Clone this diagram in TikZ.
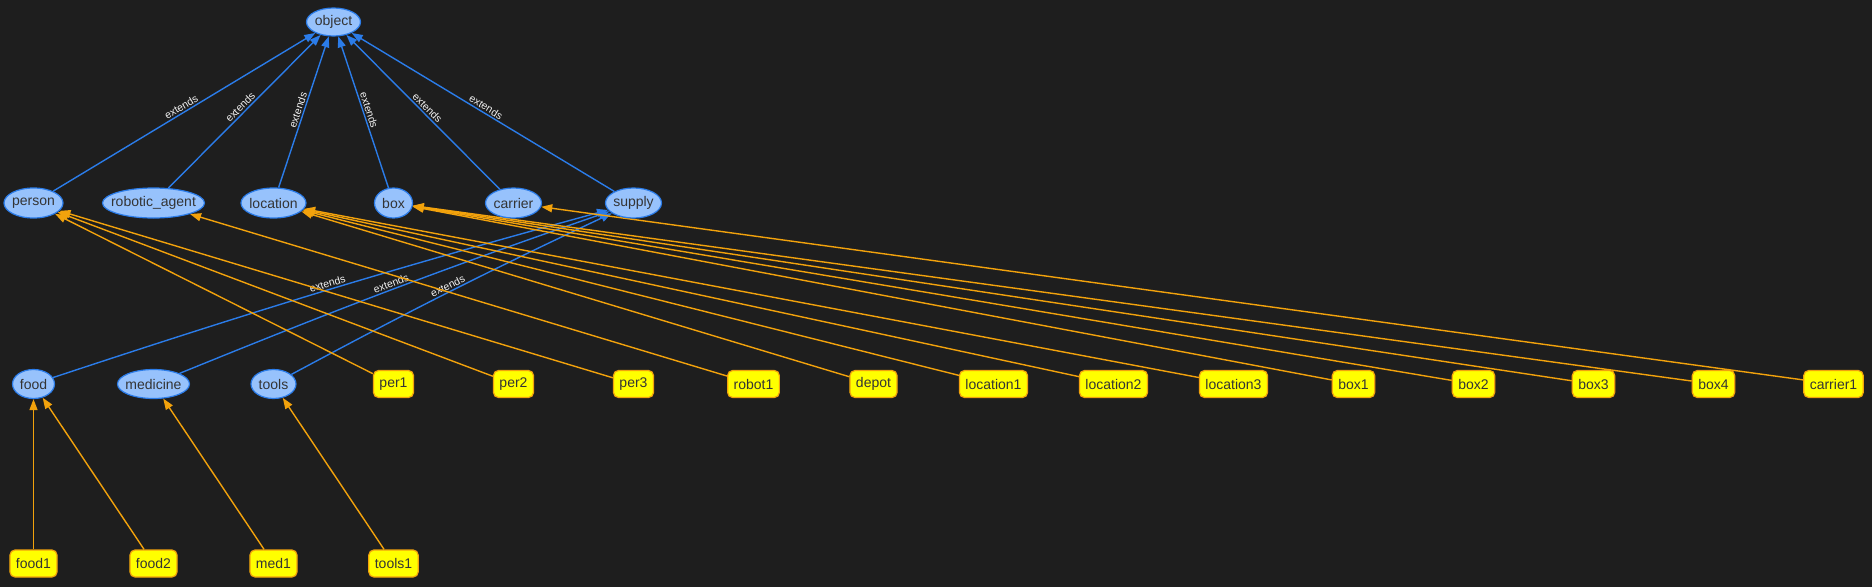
\documentclass[tikz,border=0pt]{standalone}
\usepackage{fontspec}
\setmainfont{Liberation Sans}
\usetikzlibrary{shapes.geometric,arrows.meta}
\definecolor{bgc}{HTML}{1E1E1E}
\definecolor{bfill}{HTML}{97C2FC}
\definecolor{bline}{HTML}{2B7CE9}
\definecolor{yfill}{HTML}{FFFF00}
\definecolor{oline}{HTML}{F2A20C}
\definecolor{txt}{HTML}{343434}
\definecolor{lbltxt}{HTML}{F2F2F2}
\pgfdeclarelayer{bg}
\pgfdeclarelayer{edges}
\pgfsetlayers{bg,edges,main}
\newcommand{\ectx}[1]{\makebox[0pt]{#1}}
\newcommand{\nfont}{\fontsize{14}{16}\selectfont}
\newcommand{\lfont}{\fontsize{10.5}{12}\selectfont}
\tikzset{
  cls/.style={ellipse, draw=bline, fill=bfill, line width=1.2pt, inner sep=0pt,
    minimum height=29pt, font=\nfont, text=txt},
  inst/.style={rectangle, rounded corners=5pt, draw=oline, fill=yfill, line width=1.2pt,
    inner xsep=6pt, inner ysep=0pt, minimum height=27pt, font=\nfont, text=txt},
  bedge/.style={draw=bline, line width=1.4pt, -{Triangle[length=11pt,width=8pt]}},
  oedge/.style={draw=oline, line width=1.4pt, -{Triangle[length=11pt,width=8pt]}},
  lbl/.style={sloped, above, pos=0.5, font=\lfont, text=lbltxt, inner sep=1.5pt}
}
\begin{document}
\begin{tikzpicture}[x=1pt,y=-1pt]
\begin{pgfonlayer}{bg}
\fill[bgc] (0,0) rectangle (1872,587);
\end{pgfonlayer}
\useasboundingbox (0,0) rectangle (1872,587);
% classes
\node[cls, minimum width=54pt, minimum height=28pt] (object) at (333.5,22) {\ectx{object}};
\node[cls, minimum width=59pt, minimum height=30pt] (person) at (33.5,203) {\ectx{person}};
\node[cls, minimum width=102pt, minimum height=30pt] (robotic_agent) at (153.5,203) {\ectx{robotic\_agent}};
\node[cls, minimum width=65pt, minimum height=30pt] (location) at (273.5,203) {\ectx{location}};
\node[cls, minimum width=38pt, minimum height=30pt] (box) at (393.5,203) {\ectx{box}};
\node[cls, minimum width=56pt, minimum height=30pt] (carrier) at (513.5,203) {\ectx{carrier}};
\node[cls, minimum width=56pt, minimum height=30pt] (supply) at (633.5,203) {\ectx{supply}};
\node[cls, minimum width=42pt] (food) at (33.5,384) {\ectx{food}};
\node[cls, minimum width=72pt] (medicine) at (153.5,384) {\ectx{medicine}};
\node[cls, minimum width=45pt] (tools) at (273.5,384) {\ectx{tools}};
% instances row 3
\node[inst] (per1) at (393.5,384) {per1};
\node[inst] (per2) at (513.5,384) {per2};
\node[inst] (per3) at (633.5,384) {per3};
\node[inst] (robot1) at (753.5,384) {robot1};
\node[inst] (depot) at (873.5,384) {depot};
\node[inst] (location1) at (993.5,384) {location1};
\node[inst] (location2) at (1113.5,384) {location2};
\node[inst] (location3) at (1233.5,384) {location3};
\node[inst] (box1) at (1353.5,384) {box1};
\node[inst] (box2) at (1473.5,384) {box2};
\node[inst] (box3) at (1593.5,384) {box3};
\node[inst] (box4) at (1713.5,384) {box4};
\node[inst] (carrier1) at (1833.5,384) {carrier1};
% instances row 4
\node[inst] (food1) at (33.5,563.5) {food1};
\node[inst] (food2) at (153.5,563.5) {food2};
\node[inst] (med1) at (273.5,563.5) {med1};
\node[inst] (tools1) at (393.5,563.5) {tools1};
\begin{pgfonlayer}{edges}
% extends edges
\draw[bedge] (person) -- node[lbl]{extends} (object);
\draw[bedge] (robotic_agent) -- node[lbl]{extends} (object);
\draw[bedge] (location) -- node[lbl]{extends} (object);
\draw[bedge] (box) -- node[lbl]{extends} (object);
\draw[bedge] (carrier) -- node[lbl]{extends} (object);
\draw[bedge] (supply) -- node[lbl]{extends} (object);
\draw[bedge] (food) to[bend left=1.5] node[lbl]{extends} (supply);
\draw[bedge] (medicine) to[bend left=1.5] node[lbl]{extends} (supply);
\draw[bedge] (tools) to[bend left=1.5] node[lbl]{extends} (supply);
% instance edges
\draw[oedge] (per1) -- (person);
\draw[oedge] (per2) -- (person);
\draw[oedge] (per3) -- (person);
\draw[oedge] (robot1) -- (robotic_agent);
\draw[oedge] (depot) -- (location);
\draw[oedge] (location1) -- (location);
\draw[oedge] (location2) -- (location);
\draw[oedge] (location3) -- (location);
\draw[oedge] (box1) -- (box);
\draw[oedge] (box2) -- (box);
\draw[oedge] (box3) -- (box);
\draw[oedge] (box4) -- (box);
\draw[oedge] (carrier1) -- (carrier);
\draw[oedge] (food1) -- (food);
\draw[oedge] (food2) -- (food);
\draw[oedge] (med1) -- (medicine);
\draw[oedge] (tools1) -- (tools);
\end{pgfonlayer}
\end{tikzpicture}
\end{document}
